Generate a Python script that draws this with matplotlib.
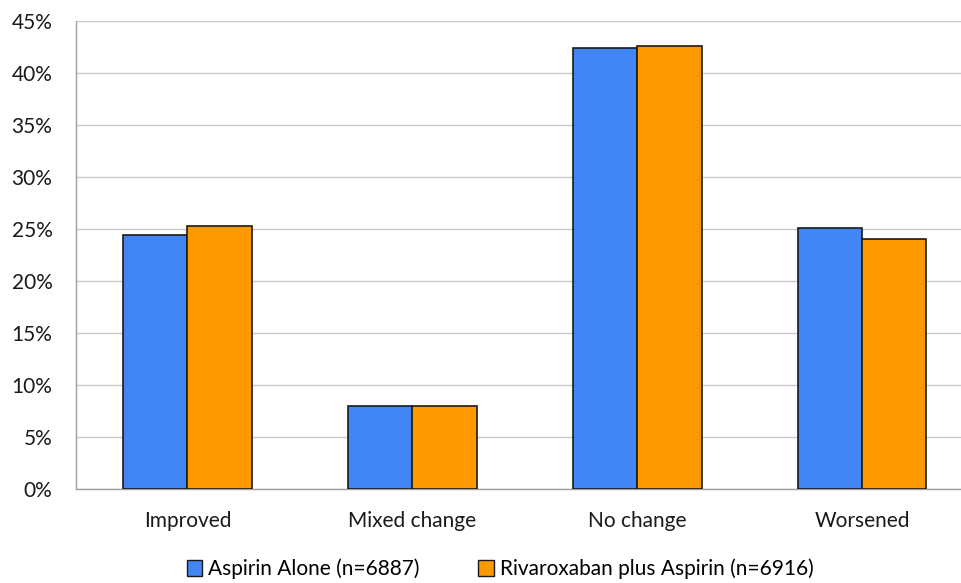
import matplotlib
matplotlib.use("Agg")
import matplotlib.pyplot as plt
import numpy as np
from matplotlib.ticker import FuncFormatter

plt.rcParams['font.family'] = ['Lato', 'DejaVu Sans']

categories = ["Improved", "Mixed change", "No change", "Worsened"]
aspirin = [24.4, 8.0, 42.4, 25.1]
rivaroxaban = [25.3, 8.0, 42.6, 24.0]
series_names = ["Aspirin Alone (n=6887)", "Rivaroxaban plus Aspirin (n=6916)"]
yticks = [0, 5, 10, 15, 20, 25, 30, 35, 40, 45]

W, H = 962, 583
fig = plt.figure(figsize=(W/100, H/100), dpi=100)
left, right, top, bottom = 76, 962, 21, 489
ax = fig.add_axes([left/W, 1 - bottom/H, (right-left)/W, (bottom-top)/H])

x = np.arange(len(categories))
bw = 0.285
ax.bar(x - bw/2, aspirin, bw, color="#4285F4", edgecolor="#1a1a1a", linewidth=1.2,
       label=series_names[0], zorder=3)
ax.bar(x + bw/2, rivaroxaban, bw, color="#FF9900", edgecolor="#1a1a1a", linewidth=1.2,
       label=series_names[1], zorder=3)

ax.set_ylim(0, 45)
ax.set_xlim(-0.495, -0.495 + (right-left)/225)
ax.set_yticks(yticks)
ax.yaxis.set_major_formatter(FuncFormatter(lambda v, p: f"{int(v)}%"))
ax.set_xticks(x)
ax.set_xticklabels(categories)
ax.grid(axis="y", color="#c8c8c8", linewidth=1.0, zorder=0)
for s in ["top", "right"]:
    ax.spines[s].set_visible(False)
for s in ["left", "bottom"]:
    ax.spines[s].set_color("#a0a0a0")
    ax.spines[s].set_linewidth(1.0)
ax.tick_params(axis="both", length=0, labelsize=15, colors="#1a1a1a")
ax.tick_params(axis="x", pad=16)
ax.tick_params(axis="y", pad=17)

leg = fig.legend(loc="center", bbox_to_anchor=(0.52, 1 - 569/H), ncol=2, frameon=False,
                 fontsize=15, handlelength=0.75, handleheight=0.75, handletextpad=0.3,
                 columnspacing=2.8)
for h in leg.legend_handles:
    h.set_linewidth(1.0)

fig.savefig("out.png", dpi=100)
